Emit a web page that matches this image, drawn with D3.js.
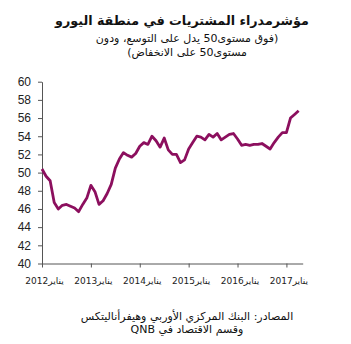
<!DOCTYPE html>
<html><head><meta charset="utf-8">
<script src="https://cdn.jsdelivr.net/npm/d3@7"></script>
<style>body{margin:0;background:#fff}svg{display:block}</style>
</head><body>
<svg id="c" width="351" height="344"></svg>
<script>
const titleText = "مؤشرمدراء المشتريات في منطقة اليورو";
const subtitleLines = ["(فوق مستوى50 يدل على التوسع، ودون", "مستوى50 على الانخفاض)"];
const sourceLines = ["المصادر: البنك المركزي الأوربي وهيفرأناليتكس", "وقسم الاقتصاد في QNB"];
const xTickMonths = [0, 12, 24, 36, 48, 60];
const xTickLabels = ["يناير2012", "يناير2013", "يناير2014", "يناير2015", "يناير2016", "يناير2017"];
const yTicks = [40, 42, 44, 46, 48, 50, 52, 54, 56, 58, 60];
// monthly values Jan 2012 .. Apr 2017
const pmi = [
  50.4, 49.6, 49.1, 46.7, 46.0, 46.4, 46.5, 46.3, 46.1, 45.7, 46.5, 47.2,
  48.6, 47.9, 46.5, 46.9, 47.7, 48.7, 50.5, 51.5, 52.2, 51.9, 51.7, 52.1,
  52.9, 53.3, 53.1, 54.0, 53.5, 52.8, 53.8, 52.5, 52.0, 52.0, 51.1, 51.4,
  52.6, 53.3, 54.0, 53.9, 53.6, 54.2, 53.9, 54.3, 53.6, 53.9, 54.2, 54.3,
  53.7, 53.0, 53.1, 53.0, 53.1, 53.1, 53.2, 52.9, 52.6, 53.3, 53.9, 54.4,
  54.4, 56.0, 56.4, 56.8
];

const svg = d3.select("#c");
const x = d3.scaleLinear().domain([0, 64]).range([42, 302.7]);
const y = d3.scaleLinear().domain([40, 60]).range([263.5, 81.7]);

const arabicFont = "DejaVu Sans";

svg.append("text").attr("x", 182).attr("y", 25)
  .attr("text-anchor", "middle").attr("direction", "rtl")
  .style("font-family", arabicFont).style("font-weight", "bold").style("font-size", "12.7px")
  .attr("fill", "#111").text(titleText);

subtitleLines.forEach((t, i) => {
  svg.append("text").attr("x", 187).attr("y", 42 + i * 13.5)
    .attr("text-anchor", "middle").attr("direction", "rtl")
    .style("font-family", arabicFont).style("font-size", "11px")
    .attr("fill", "#111").text(t);
});

const yAxis = svg.append("g").attr("transform", "translate(42,0)")
  .call(d3.axisLeft(y).tickValues(yTicks).tickSize(4).tickPadding(7).tickSizeOuter(0).tickFormat(d3.format("d")));
yAxis.selectAll("text").style("font-family", "Liberation Sans").style("font-size", "12px").attr("fill", "#222");
yAxis.selectAll("line,path").attr("stroke", "#555");

const xAxis = svg.append("g").attr("transform", "translate(0,263.5)")
  .call(d3.axisBottom(x).tickValues(xTickMonths).tickSize(4).tickPadding(10).tickSizeOuter(0)
    .tickFormat((d, i) => xTickLabels[i]));
xAxis.selectAll("text").attr("direction", "rtl").attr("dx", 2)
  .style("font-family", arabicFont).style("font-size", "9px").attr("fill", "#222");
xAxis.selectAll("line,path").attr("stroke", "#555");

svg.append("path").datum(pmi)
  .attr("fill", "none").attr("stroke", "#8c0f5e").attr("stroke-width", 2.8)
  .attr("stroke-linejoin", "round")
  .attr("d", d3.line().x((d, i) => x(i)).y(d => y(d)));

sourceLines.forEach((t, i) => {
  svg.append("text").attr("x", 187).attr("y", 320 + i * 13)
    .attr("text-anchor", "middle").attr("direction", "rtl")
    .style("font-family", arabicFont).style("font-size", "11px")
    .attr("fill", "#111").text(t);
});
</script>
</body></html>
